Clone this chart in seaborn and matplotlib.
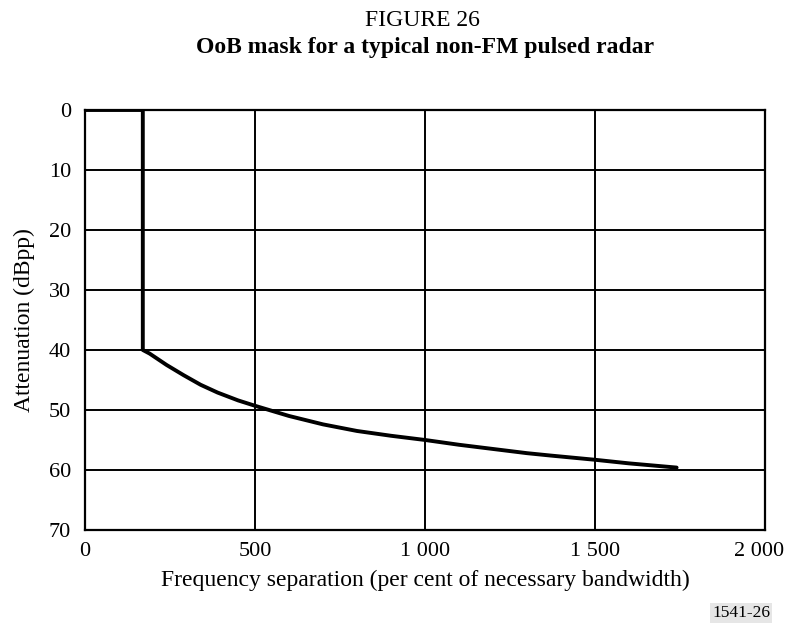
import pandas as pd
import matplotlib.pyplot as plt
import matplotlib.transforms as mtransforms
import seaborn as sns

# Mask points
freq_sep = [0, 170, 170, 190, 240, 290, 340, 390, 450, 500, 600, 700, 800, 900,
            1000, 1100, 1200, 1300, 1370, 1500, 1600, 1740]
attenuation = [0, 0, 40, 40.6, 42.5, 44.2, 45.8, 47.1, 48.4, 49.3, 51.0, 52.4, 53.5, 54.3,
               55.0, 55.8, 56.5, 57.2, 57.6, 58.3, 58.9, 59.6]
x_ticks = [0, 500, 1000, 1500, 2000]
x_tick_labels = ["0", "500", "1 000", "1 500", "2 000"]
y_ticks = [0, 10, 20, 30, 40, 50, 60, 70]

df = pd.DataFrame({"freq": freq_sep, "att": attenuation})

sns.set_style("white")
plt.rcParams["font.family"] = ["Liberation Serif", "DejaVu Serif"]
plt.rcParams["text.color"] = "black"
plt.rcParams["axes.labelcolor"] = "black"
plt.rcParams["xtick.color"] = "black"
plt.rcParams["ytick.color"] = "black"

fig = plt.figure(figsize=(7.9, 6.26), dpi=100)
ax = fig.add_axes([0.1076, 0.1534, 0.8608, 0.6709])

sns.lineplot(data=df, x="freq", y="att", sort=False, estimator=None,
             color="black", linewidth=2.8, ax=ax)

ax.set_xlim(0, 2000)
ax.set_ylim(70, 0)
ax.set_xticks(x_ticks)
ax.set_xticklabels(x_tick_labels)
ax.set_yticks(y_ticks)
ax.grid(True, color="black", linewidth=1.4)
ax.tick_params(length=0, labelsize=16)
ax.tick_params(axis="y", pad=10)
ax.tick_params(axis="x", pad=9)
for s in ax.spines.values():
    s.set_color("black")
    s.set_linewidth(1.6)

# nudge the last x label left so it stays inside the figure
last = ax.get_xticklabels()[-1]
last.set_transform(last.get_transform() + mtransforms.ScaledTranslation(-6 / 100, 0, fig.dpi_scale_trans))

ax.set_xlabel("Frequency separation (per cent of necessary bandwidth)", fontsize=17, labelpad=6)
ax.set_ylabel("Attenuation (dBpp)", fontsize=17, labelpad=10)

fig.text(0.535, 0.968, "FIGURE 26", ha="center", va="center", fontsize=17)
fig.text(0.538, 0.924, "OoB mask for a typical non-FM pulsed radar", ha="center", va="center",
         fontsize=17, fontweight="bold")
fig.text(0.938, 0.021, "1541-26", ha="center", va="center", fontsize=12.5,
         bbox=dict(facecolor="#e6e6e6", edgecolor="none", pad=1.5))

fig.savefig("out.png", dpi=100)
